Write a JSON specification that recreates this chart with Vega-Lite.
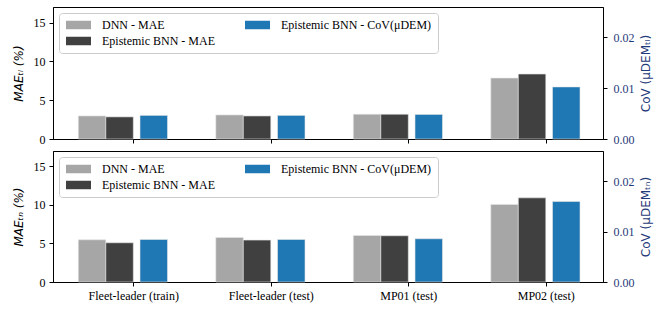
{
  "$schema": "https://vega.github.io/schema/vega-lite/v6.json",
  "padding": {"left": 11, "top": 6, "right": 5, "bottom": 5},
  "spacing": 4,
  "config": {
    "view": {"stroke": "black", "strokeWidth": 1},
    "axis": {
      "grid": false,
      "domainColor": "black",
      "tickColor": "black",
      "tickSize": 4,
      "labelPadding": 4,
      "labelFont": "Liberation Serif",
      "labelFontSize": 12,
      "labelColor": "black",
      "titleFont": "DejaVu Sans",
      "titleFontWeight": "normal",
      "titleFontSize": 12,
      "titleColor": "black"
    },
    "legend": {
      "orient": "top-left",
      "offset": 6,
      "columns": 2,
      "direction": "horizontal",
      "title": null,
      "labelFont": "Liberation Serif",
      "labelFontSize": 12,
      "labelColor": "black",
      "symbolType": "M-1,-0.85H4V0.85H-1Z",
      "symbolSize": 100,
      "symbolStrokeWidth": 0,
      "symbolOpacity": 1,
      "labelOffset": 25,
      "padding": 6,
      "rowPadding": 4,
      "columnPadding": 29,
      "strokeColor": "#cccccc",
      "fillColor": "white",
      "cornerRadius": 3
    }
  },
  "datasets": {
    "top": [
      {"case": "Fleet-leader (train)", "series": "DNN - MAE", "value": 2.97},
      {"case": "Fleet-leader (train)", "series": "Epistemic BNN - MAE", "value": 2.85},
      {"case": "Fleet-leader (train)", "series": "Epistemic BNN - CoV(μDEM)", "value": 0.00465},
      {"case": "Fleet-leader (test)", "series": "DNN - MAE", "value": 3.1},
      {"case": "Fleet-leader (test)", "series": "Epistemic BNN - MAE", "value": 2.97},
      {"case": "Fleet-leader (test)", "series": "Epistemic BNN - CoV(μDEM)", "value": 0.00465},
      {"case": "MP01 (test)", "series": "DNN - MAE", "value": 3.19},
      {"case": "MP01 (test)", "series": "Epistemic BNN - MAE", "value": 3.19},
      {"case": "MP01 (test)", "series": "Epistemic BNN - CoV(μDEM)", "value": 0.00484},
      {"case": "MP02 (test)", "series": "DNN - MAE", "value": 7.85},
      {"case": "MP02 (test)", "series": "Epistemic BNN - MAE", "value": 8.37},
      {"case": "MP02 (test)", "series": "Epistemic BNN - CoV(μDEM)", "value": 0.01026}
    ],
    "bottom": [
      {"case": "Fleet-leader (train)", "series": "DNN - MAE", "value": 5.48},
      {"case": "Fleet-leader (train)", "series": "Epistemic BNN - MAE", "value": 5.09},
      {"case": "Fleet-leader (train)", "series": "Epistemic BNN - CoV(μDEM)", "value": 0.00844},
      {"case": "Fleet-leader (test)", "series": "DNN - MAE", "value": 5.78},
      {"case": "Fleet-leader (test)", "series": "Epistemic BNN - MAE", "value": 5.44},
      {"case": "Fleet-leader (test)", "series": "Epistemic BNN - CoV(μDEM)", "value": 0.00844},
      {"case": "MP01 (test)", "series": "DNN - MAE", "value": 6.04},
      {"case": "MP01 (test)", "series": "Epistemic BNN - MAE", "value": 6.0},
      {"case": "MP01 (test)", "series": "Epistemic BNN - CoV(μDEM)", "value": 0.00858},
      {"case": "MP02 (test)", "series": "DNN - MAE", "value": 10.07},
      {"case": "MP02 (test)", "series": "Epistemic BNN - MAE", "value": 10.92},
      {"case": "MP02 (test)", "series": "Epistemic BNN - CoV(μDEM)", "value": 0.01597}
    ]
  },
  "vconcat": [
    {
      "width": 550,
      "height": 132,
      "data": {"name": "top"},
      "encoding": {
        "x": {"field": "case", "type": "nominal",
          "sort": ["Fleet-leader (train)", "Fleet-leader (test)", "MP01 (test)", "MP02 (test)"],
          "scale": {"paddingInner": 0, "paddingOuter": 0},
          "axis": {"title": null, "labels": false, "tickOffset": 11.5}},
        "color": {
          "field": "series", "type": "nominal",
          "scale": {
            "domain": ["DNN - MAE", "Epistemic BNN - CoV(μDEM)", "Epistemic BNN - MAE"],
            "range": ["#a6a6a6", "#1f77b4", "#404040"]
          }
        }
      },
      "layer": [
        {
          "transform": [{"filter": "datum.series == 'DNN - MAE'"}],
          "mark": {"type": "bar", "stroke": "#e6e6e6", "strokeWidth": 0.6},
          "encoding": {
            "xOffset": {"field": "series", "scale": {"paddingInner": 0.5, "paddingOuter": 1, "align": 0.23}},
            "y": {"field": "value", "type": "quantitative",
              "scale": {"domain": [0, 17], "nice": false},
              "axis": {"orient": "left", "title": "MAEₜₗ (%)", "values": [0, 5, 10, 15], "titleFontStyle": "italic", "titlePadding": 8}}
          }
        },
        {
          "transform": [{"filter": "datum.series == 'Epistemic BNN - MAE'"}],
          "mark": {"type": "bar", "stroke": "#e6e6e6", "strokeWidth": 0.6},
          "encoding": {
            "xOffset": {"field": "series", "scale": {"paddingInner": 0.5, "paddingOuter": 1, "align": 0.48}},
            "y": {"field": "value", "type": "quantitative",
              "scale": {"domain": [0, 17], "nice": false}, "axis": null}
          }
        },
        {
          "transform": [{"filter": "datum.series == 'Epistemic BNN - CoV(μDEM)'"}],
          "mark": {"type": "bar", "stroke": "#e6e6e6", "strokeWidth": 0.6},
          "encoding": {
            "xOffset": {"field": "series", "scale": {"paddingInner": 0.5, "paddingOuter": 1, "align": 0.791}},
            "y": {"field": "value", "type": "quantitative",
              "scale": {"domain": [0, 0.026], "nice": false},
              "axis": {"orient": "right", "title": "CoV (μDEMₜₗ)", "titleAngle": 270, "titleBaseline": "top", "titlePadding": 6, "labelPadding": 6, "values": [0, 0.01, 0.02], "format": ".2f", "labelColor": "#1f3a7a", "titleColor": "#1f3a7a"}}
          }
        }
      ],
      "resolve": {"scale": {"y": "independent", "xOffset": "independent"}}
    },
    {
      "width": 550,
      "height": 131,
      "data": {"name": "bottom"},
      "encoding": {
        "x": {"field": "case", "type": "nominal",
          "sort": ["Fleet-leader (train)", "Fleet-leader (test)", "MP01 (test)", "MP02 (test)"],
          "scale": {"paddingInner": 0, "paddingOuter": 0},
          "axis": {"title": null, "labelAngle": 0, "tickOffset": 11.5}},
        "color": {
          "field": "series", "type": "nominal",
          "scale": {
            "domain": ["DNN - MAE", "Epistemic BNN - CoV(μDEM)", "Epistemic BNN - MAE"],
            "range": ["#a6a6a6", "#1f77b4", "#404040"]
          }
        }
      },
      "layer": [
        {
          "transform": [{"filter": "datum.series == 'DNN - MAE'"}],
          "mark": {"type": "bar", "stroke": "#e6e6e6", "strokeWidth": 0.6},
          "encoding": {
            "xOffset": {"field": "series", "scale": {"paddingInner": 0.5, "paddingOuter": 1, "align": 0.23}},
            "y": {"field": "value", "type": "quantitative",
              "scale": {"domain": [0, 17], "nice": false},
              "axis": {"orient": "left", "title": "MAEₜₙ (%)", "values": [0, 5, 10, 15], "titleFontStyle": "italic", "titlePadding": 8}}
          }
        },
        {
          "transform": [{"filter": "datum.series == 'Epistemic BNN - MAE'"}],
          "mark": {"type": "bar", "stroke": "#e6e6e6", "strokeWidth": 0.6},
          "encoding": {
            "xOffset": {"field": "series", "scale": {"paddingInner": 0.5, "paddingOuter": 1, "align": 0.48}},
            "y": {"field": "value", "type": "quantitative",
              "scale": {"domain": [0, 17], "nice": false}, "axis": null}
          }
        },
        {
          "transform": [{"filter": "datum.series == 'Epistemic BNN - CoV(μDEM)'"}],
          "mark": {"type": "bar", "stroke": "#e6e6e6", "strokeWidth": 0.6},
          "encoding": {
            "xOffset": {"field": "series", "scale": {"paddingInner": 0.5, "paddingOuter": 1, "align": 0.791}},
            "y": {"field": "value", "type": "quantitative",
              "scale": {"domain": [0, 0.026], "nice": false},
              "axis": {"orient": "right", "title": "CoV (μDEMₜₙ)", "titleAngle": 270, "titleBaseline": "top", "titlePadding": 6, "labelPadding": 6, "values": [0, 0.01, 0.02], "format": ".2f", "labelColor": "#1f3a7a", "titleColor": "#1f3a7a"}}
          }
        }
      ],
      "resolve": {"scale": {"y": "independent", "xOffset": "independent"}}
    }
  ],
  "resolve": {"legend": {"color": "independent"}, "scale": {"color": "independent"}}
}
